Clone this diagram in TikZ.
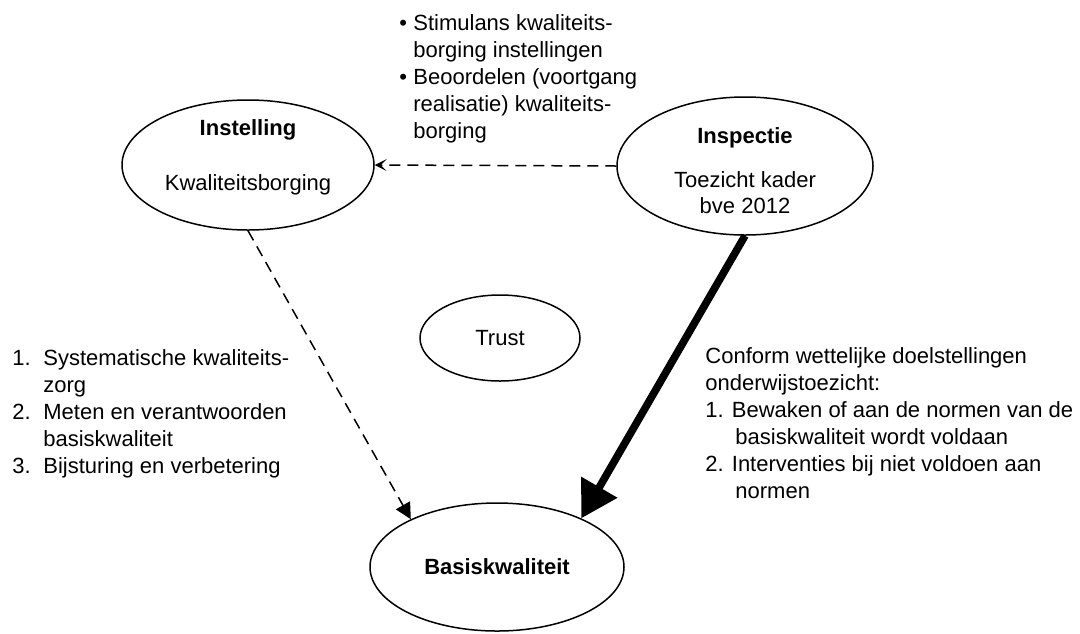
\documentclass[tikz,border=0pt]{standalone}
\usepackage{fontspec}
\setmainfont{Liberation Sans}
\usetikzlibrary{arrows.meta,shapes.geometric}
\tikzset{
  oval/.style={ellipse,draw,line width=0.75pt,inner sep=0pt},
  txt/.style={font=\fontsize{11}{13.5}\selectfont,inner sep=0pt},
  head/.style={font=\fontsize{11}{13.5}\selectfont\bfseries,inner sep=0pt},
  dasharrow/.style={line width=0.75pt,dash pattern=on 5.5pt off 3.5pt},
}
\begin{document}
\begin{tikzpicture}[x=0.5pt,y=-0.5pt]
\useasboundingbox (0,0) rectangle (1080,633);
\node[oval,minimum width=126pt,minimum height=65pt] (inst) at (248,165) {};
\node[oval,minimum width=128pt,minimum height=69pt] (insp) at (745,166) {};
\node[oval,txt,minimum width=80pt,minimum height=43pt] (trust) at (500,338) {Trust};
\node[oval,head,minimum width=127pt,minimum height=64pt] (basis) at (497,567) {Basiskwaliteit};
\node[head,anchor=base] (instHead) at (248,135) {Instelling};
\node[txt,anchor=base] (instBody) at (248,190) {Kwaliteitsborging};
\node[head,anchor=base] (inspHead) at (745,143) {Inspectie};
\node[txt,anchor=base] (inspBody) at (745,187) {Toezicht kader};
\node[txt,anchor=base] (inspYear) at (745,213) {bve 2012};
\node[txt,anchor=base west] (taken) at (399,30) {\begin{tabular}[t]{@{}p{7pt}@{}l@{}}
• & Stimulans kwaliteits-\\
  & borging instellingen\\
• & Beoordelen (voortgang\\
  & realisatie) kwaliteits-\\
  & borging
\end{tabular}};
\node[txt,anchor=base west] (zorg) at (12,365) {\begin{tabular}[t]{@{}p{15.5pt}@{}l@{}}
1. & Systematische kwaliteits-\\
   & zorg\\
2. & Meten en verantwoorden\\
   & basiskwaliteit\\
3. & Bijsturing en verbetering
\end{tabular}};
\node[txt,anchor=base west] (doelen) at (705,363) {\begin{tabular}[t]{@{}l@{}}
Conform wettelijke doelstellingen\\
onderwijstoezicht:\\
1. Bewaken of aan de normen van de\\
\hspace{15pt}basiskwaliteit wordt voldaan\\
2. Interventies bij niet voldoen aan\\
\hspace{15pt}normen
\end{tabular}};
\draw[dasharrow,-{Stealth[length=6pt,width=6pt,inset=3pt]}] (insp.west) -- (inst.east);
\draw[dasharrow,-{Triangle[length=8pt,width=8pt]}] (inst.south) -- (basis.151);
\draw[line width=3.8pt,-{Triangle[length=18pt,width=20pt]}] (insp.south) -- (basis.30);
\end{tikzpicture}
\end{document}
